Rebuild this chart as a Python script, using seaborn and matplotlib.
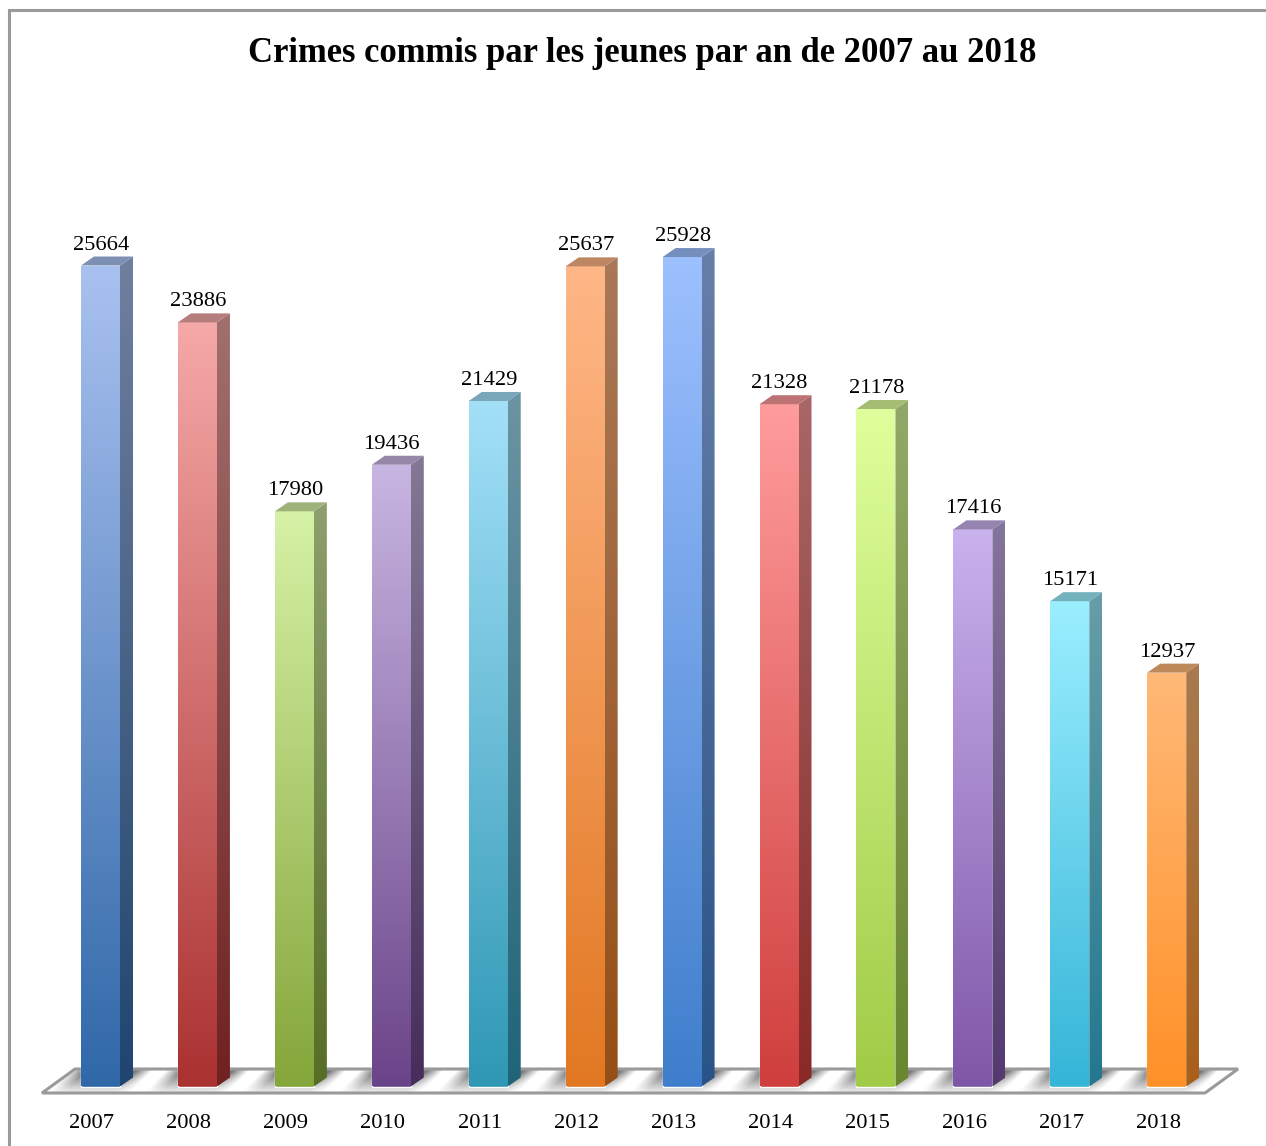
import numpy as np
import pandas as pd
import matplotlib
matplotlib.use("Agg")
import matplotlib.pyplot as plt
import matplotlib.colors as mc
from matplotlib.patches import Polygon
import seaborn as sns

years = ["2007","2008","2009","2010","2011","2012","2013","2014","2015","2016","2017","2018"]
crimes = [25664,23886,17980,19436,21429,25637,25928,21328,21178,17416,15171,12937]
top_colors = ["#A9C1F0","#F5A9A8","#D6F2A6","#C8B6E2","#A3E0F8","#FFB787","#9DC0FF","#FF9C9C","#DFFF9C","#C9B2EE","#9BEFFF","#FFB977"]
bottom_colors = ["#3068A8","#AA3231","#84A63A","#6A4489","#2F98B5","#E27822","#3F7ECC","#CF3F3D","#A0CB46","#7F57A8","#35B5D8","#FF9128"]
title = "Crimes commis par les jeunes par an de 2007 au 2018"

W, H = 1266, 1146
sns.set_theme(style="white")
plt.rcParams["font.family"] = ["Liberation Serif", "DejaVu Serif"]

PX_X = 96.93     # pixels per category
PX_Y = 0.03199   # pixels per crime
X0, Y0 = 100.5, 1086.5  # pixel position of first category, zero line

fig = plt.figure(figsize=(W/100, H/100), dpi=100, facecolor="white")
ax = fig.add_axes([0, 0, 1, 1])
df = pd.DataFrame({"year": years, "crimes": crimes})
sns.barplot(data=df, x="year", y="crimes", hue="year", palette=bottom_colors,
            width=39/PX_X, legend=False, ax=ax, zorder=3, saturation=1)
bars = list(ax.patches)
ax.set_xlim((0-X0)/PX_X, (W-X0)/PX_X)
ax.set_ylim((Y0-H)/PX_Y, Y0/PX_Y)
ax.axis("off")

def dx(px): return px/PX_X
def dy(px): return px/PX_Y
def xp(px): return (px-X0)/PX_X
def yp(px): return (Y0-px)/PX_Y

def rgb(c): return np.array(mc.to_rgb(c))

def gradient(top, bottom, extent, clip, z):
    arr = np.linspace(rgb(top), rgb(bottom), 256)[:, None, :]
    im = ax.imshow(arr, extent=extent, aspect="auto", zorder=z, origin="upper", interpolation="bilinear")
    im.set_clip_path(clip)
    return im

# floor: light diagonal band between bars, grey shadow either side
floor_px = [(42,1093),(75,1069),(1238,1069),(1205,1093)]
floor_xy = [(xp(a), yp(b)) for a,b in floor_px]
fl = Polygon(floor_xy, closed=True, facecolor="white", edgecolor="none", zorder=2)
ax.add_patch(fl)
yy, xx = np.mgrid[1069:1094, 42:1240]
dist = np.abs(((xx + (yy-1069) - 160 + PX_X/2) % PX_X) - PX_X/2)
shade = np.clip((dist - 7) / 16.0, 0, 1)
depth = np.clip(1.15 - (yy-1069)/22.0, 0.2, 1)
light = 1 - 0.52*shade*depth
fim = ax.imshow(light, extent=(xp(42), xp(1240), yp(1094), yp(1069)), aspect="auto", cmap="gray",
                vmin=0, vmax=1, zorder=2.1, origin="upper", interpolation="bilinear")
fim.set_clip_path(fl)
ax.add_patch(Polygon(floor_xy, closed=True, facecolor="none", edgecolor="#9A9A9A", lw=2.2, zorder=2.2, joinstyle="miter"))

# 3D bars built on the seaborn rectangles
for bar, v, top, bot in zip(bars, crimes, top_colors, bottom_colors):
    x0, w = bar.get_x(), bar.get_width()
    x1 = x0 + w
    ex, ey = dx(13), dy(9)
    # front
    gradient(top, bot, (x0, x1, 0, v), bar, 3.1)
    # side
    side = Polygon([(x1,0),(x1+ex,ey),(x1+ex,v+ey),(x1,v)], closed=True, facecolor="none", edgecolor="none", zorder=3)
    ax.add_patch(side)
    gradient(rgb(top)*0.66, rgb(bot)*0.66, (x1, x1+ex, 0, v+ey), side, 3.2)
    # top cap
    cap = Polygon([(x0,v),(x1,v),(x1+ex,v+ey),(x0+ex,v+ey)], closed=True, facecolor=rgb(top)*0.74, edgecolor="none", zorder=3.3)
    ax.add_patch(cap)
    ax.text(x0 + w/2 + dx(0.5), v + dy(20.5), str(v), ha="center", va="center", fontsize=16.2, color="black", zorder=5)

ax.set_xlim((0-X0)/PX_X, (W-X0)/PX_X)
ax.set_ylim((Y0-H)/PX_Y, Y0/PX_Y)

for i, y in enumerate(years):
    ax.text(i - dx(8.5), yp(1123), y, ha="center", va="center", fontsize=16.2, color="black")

ax.text(xp(642.5), yp(54), title, ha="center", va="center", fontsize=24.9, fontweight="bold", color="black")

# frame
ax.plot([xp(9), xp(9), xp(1266)], [yp(1146), yp(10), yp(10)], color="#9A9A9A", lw=2.2, zorder=6, clip_on=True, solid_joinstyle="miter")

fig.savefig("out.png", dpi=100)
